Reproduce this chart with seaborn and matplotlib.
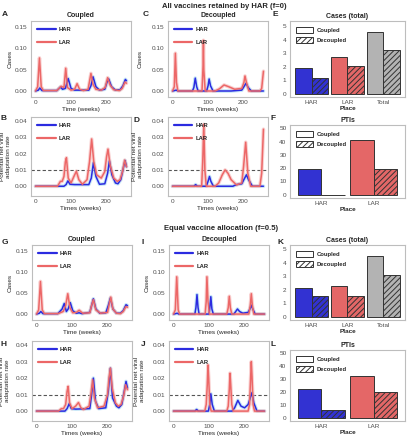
import pandas as pd
import matplotlib
matplotlib.use("Agg")
import matplotlib.pyplot as plt
import seaborn as sns
from matplotlib.patches import Patch
from matplotlib.lines import Line2D

# ---- time series (weeks, value) ----
# A: coupled, cases, f=0
a_har_t = [0, 8, 12, 18, 60, 70, 76, 84, 92, 100, 110, 150, 156, 162, 170, 180, 195, 201, 206, 214, 225, 238, 246, 253, 256]
a_har_y = [0, 0.002, 0.007, 0.001, 0.001, 0.009, 0.004, 0.006, 0.029, 0.006, 0.002, 0.002, 0.012, 0.033, 0.010, 0.002, 0.004, 0.020, 0.028, 0.010, 0.002, 0.003, 0.012, 0.027, 0.024]
a_lar_t = [0, 6, 11, 16, 22, 60, 72, 80, 85, 90, 100, 110, 117, 124, 135, 148, 156, 162, 170, 185, 196, 203, 210, 220, 236, 244, 252, 256]
a_lar_y = [0, 0.010, 0.077, 0.010, 0.001, 0.001, 0.011, 0.008, 0.053, 0.008, 0.002, 0.004, 0.017, 0.004, 0.001, 0.004, 0.041, 0.015, 0.004, 0.002, 0.008, 0.031, 0.014, 0.003, 0.001, 0.006, 0.021, 0.018]
# B: coupled, adaptation rate, f=0
b_har_t = [0, 80, 86, 91, 97, 110, 150, 157, 163, 170, 180, 195, 203, 208, 215, 225, 232, 240, 247, 252, 256]
b_har_y = [0, 0, 0.001, 0.0033, 0.0012, 0.001, 0.001, 0.005, 0.0145, 0.006, 0.0012, 0.0015, 0.008, 0.0155, 0.007, 0.002, 0.0015, 0.004, 0.011, 0.0158, 0.012]
b_lar_t = [0, 62, 70, 75, 80, 84, 87, 92, 100, 108, 115, 122, 132, 145, 152, 158, 164, 172, 185, 195, 200, 204, 210, 220, 230, 238, 245, 251, 256]
b_lar_y = [0, 0, 0.003, 0.003, 0.006, 0.015, 0.0175, 0.005, 0.002, 0.006, 0.0092, 0.004, 0.0012, 0.004, 0.015, 0.029, 0.015, 0.007, 0.005, 0.009, 0.018, 0.0228, 0.013, 0.005, 0.003, 0.004, 0.009, 0.016, 0.012]
# C: decoupled, cases, f=0
c_har_t = [0, 6, 10, 16, 56, 60, 64, 68, 72, 96, 100, 103, 107, 114, 165, 180, 195, 201, 207, 213, 222, 256]
c_har_y = [0, 0.001, 0.002, 0, 0, 0.008, 0.030, 0.010, 0, 0, 0.012, 0.028, 0.012, 0, 0, 0.001, 0.002, 0.010, 0.018, 0.008, 0, 0]
c_lar_t = [0, 5, 8, 11, 15, 83, 86, 87, 88, 92, 120, 132, 145, 158, 175, 195, 201, 204, 208, 215, 246, 251, 256]
c_lar_y = [0, 0.010, 0.088, 0.020, 0, 0, 0.060, 0.118, 0.050, 0, 0, 0.005, 0.014, 0.010, 0.004, 0.006, 0.020, 0.035, 0.020, 0, 0, 0.006, 0.046]
# D: decoupled, adaptation rate, f=0
d_har_t = [0, 60, 65, 70, 95, 100, 104, 108, 115, 170, 180, 195, 202, 208, 214, 225, 256]
d_har_y = [0, 0, 0.001, 0, 0, 0.003, 0.006, 0.003, 0, 0, 0.001, 0.0015, 0.0045, 0.007, 0.004, 0, 0]
d_lar_t = [0, 82, 85, 88, 91, 95, 120, 130, 140, 148, 156, 165, 180, 195, 200, 206, 212, 220, 246, 251, 256]
d_lar_y = [0, 0, 0.015, 0.038, 0.010, 0, 0, 0.002, 0.007, 0.010, 0.008, 0.004, 0.0008, 0.002, 0.012, 0.027, 0.008, 0, 0, 0.008, 0.035]
# G: coupled, cases, f=0.5
g_har_t = [0, 8, 12, 18, 60, 72, 78, 84, 89, 95, 102, 112, 120, 128, 150, 155, 160, 167, 178, 195, 202, 208, 215, 225, 236, 244, 252, 256]
g_har_y = [0, 0.002, 0.006, 0.001, 0.001, 0.012, 0.025, 0.006, 0.012, 0.027, 0.008, 0.002, 0.003, 0.001, 0.004, 0.020, 0.036, 0.012, 0.002, 0.003, 0.020, 0.038, 0.012, 0.002, 0.002, 0.008, 0.022, 0.020]
g_lar_t = [0, 6, 11, 16, 22, 60, 75, 82, 88, 94, 102, 112, 120, 130, 150, 155, 160, 167, 180, 200, 205, 209, 215, 225, 236, 244, 252, 256]
g_lar_y = [0, 0.010, 0.077, 0.010, 0.001, 0.001, 0.006, 0.020, 0.048, 0.015, 0.003, 0.004, 0.009, 0.002, 0.003, 0.020, 0.034, 0.010, 0.002, 0.004, 0.025, 0.040, 0.012, 0.002, 0.001, 0.006, 0.018, 0.016]
# H: coupled, adaptation rate, f=0.5
h_har_t = [0, 80, 86, 92, 98, 110, 150, 155, 160, 166, 175, 195, 202, 208, 214, 225, 232, 240, 247, 252, 256]
h_har_y = [0, 0, 0.0015, 0.0045, 0.0015, 0.0012, 0.0015, 0.010, 0.020, 0.006, 0.0015, 0.002, 0.012, 0.026, 0.008, 0.003, 0.002, 0.004, 0.012, 0.018, 0.014]
h_lar_t = [0, 62, 70, 76, 82, 86, 89, 93, 100, 110, 118, 125, 132, 148, 153, 158, 163, 172, 190, 200, 204, 208, 213, 222, 230, 238, 245, 251, 256]
h_lar_y = [0, 0, 0.0015, 0.0015, 0.004, 0.012, 0.015, 0.005, 0.0015, 0.003, 0.0052, 0.002, 0.001, 0.003, 0.010, 0.019, 0.008, 0.002, 0.003, 0.010, 0.020, 0.026, 0.014, 0.005, 0.003, 0.004, 0.009, 0.016, 0.013]
# I: decoupled, cases, f=0.5
i_har_t = [0, 6, 10, 15, 60, 63, 66, 69, 72, 100, 102, 105, 108, 112, 170, 175, 180, 186, 195, 210, 215, 219, 223, 230, 256]
i_har_y = [0, 0.001, 0.002, 0, 0, 0.015, 0.046, 0.015, 0, 0, 0.015, 0.041, 0.012, 0, 0, 0.006, 0.012, 0.006, 0.002, 0.004, 0.012, 0.021, 0.012, 0, 0]
i_lar_t = [0, 5, 9, 13, 17, 89, 92, 94, 97, 101, 150, 154, 157, 160, 164, 212, 216, 219, 222, 226, 256]
i_lar_y = [0, 0.010, 0.088, 0.010, 0, 0, 0.030, 0.088, 0.030, 0, 0, 0.015, 0.042, 0.015, 0, 0, 0.020, 0.048, 0.020, 0, 0]
# J: decoupled, adaptation rate, f=0.5
j_har_t = [0, 60, 65, 70, 98, 102, 105, 109, 115, 165, 172, 181, 190, 200, 210, 216, 221, 226, 235, 256]
j_har_y = [0, 0, 0.001, 0, 0, 0.004, 0.0105, 0.004, 0, 0, 0.002, 0.0065, 0.003, 0.002, 0.004, 0.008, 0.0112, 0.005, 0, 0]
j_lar_t = [0, 88, 92, 95, 97, 99, 102, 106, 150, 154, 157, 159, 161, 164, 168, 210, 214, 217, 219, 221, 224, 228, 256]
j_lar_y = [0, 0, 0.004, 0.016, 0.028, 0.020, 0.004, 0, 0, 0.003, 0.013, 0.023, 0.016, 0.004, 0, 0, 0.004, 0.020, 0.030, 0.021, 0.004, 0, 0]

# ---- bar panels ----
places3 = ["HAR", "LAR", "Total"]
places2 = ["HAR", "LAR"]
e_coupled = [1.95, 2.7, 4.6]
e_decoupled = [1.2, 2.05, 3.25]
f_coupled = [19, 41]
f_decoupled = [0, 19]
k_coupled = [2.15, 2.3, 4.45]
k_decoupled = [1.5, 1.55, 3.05]
l_coupled = [22, 32]
l_decoupled = [6, 20]

sns.set_style("white")
plt.rcParams['font.family'] = ['Liberation Sans', 'DejaVu Sans']
plt.rcParams['hatch.linewidth'] = 0.7

HAR_LINE = "#2b2be0"
LAR_LINE = "#ec6767"
HAR_BAND = "#9fd6f2"
LAR_BAND = "#f5b3b3"
BAR_COL = {"HAR": "#3232d2", "LAR": "#e46767", "Total": "#b3b3b3"}
TICK_COL = "#4d4d4d"

W, H = 410, 440
fig = plt.figure(figsize=(W / 100, H / 100), dpi=100)


def rect(left, top, right, bottom):
    return [left / W, 1 - bottom / H, (right - left) / W, (bottom - top) / H]


def style_axes(ax):
    for s in ax.spines.values():
        s.set_color("#bdbdbd")
        s.set_linewidth(0.8)
    ax.tick_params(length=1.5, width=0.6, color="#7f7f7f", labelsize=4.6,
                   labelcolor=TICK_COL, pad=1)


def line_panel(box, har_t, har_y, lar_t, lar_y, kind, title, xlabel, ylab_x):
    ax = fig.add_axes(rect(*box))
    df = pd.concat([pd.DataFrame({"t": har_t, "v": har_y, "place": "HAR"}),
                    pd.DataFrame({"t": lar_t, "v": lar_y, "place": "LAR"})])
    sns.lineplot(data=df, x="t", y="v", hue="place", estimator=None,
                 palette={"HAR": HAR_BAND, "LAR": LAR_BAND}, lw=2.6,
                 alpha=0.6, legend=False, ax=ax)
    sns.lineplot(data=df, x="t", y="v", hue="place", estimator=None,
                 palette={"HAR": HAR_LINE, "LAR": LAR_LINE}, lw=1.1,
                 legend=False, ax=ax)
    ax.set_xlim(-12.8, 268.8)
    ax.set_xticks([0, 100, 200])
    if kind == "cases":
        ax.set_ylim(-0.014, 0.163)
        ax.set_yticks([0, 0.05, 0.10, 0.15])
        ax.set_ylabel("Cases", fontsize=4.6)
    else:
        ax.axhline(0.01, color="#555555", lw=0.8, ls=(0, (3, 2)), zorder=0)
        ax.set_ylim(-0.006, 0.0425)
        ax.set_yticks([0, 0.01, 0.02, 0.03, 0.04])
        ax.set_ylabel("Potential net viral\nadaptation rate", fontsize=4.6,
                      linespacing=1.3)
    ax.yaxis.set_label_coords((ylab_x - box[0]) / (box[2] - box[0]), 0.5)
    ax.yaxis.set_major_formatter(lambda v, p: f"{v:.2f}")
    ax.set_xlabel(xlabel, fontsize=4.6, labelpad=1)
    if title:
        ax.set_title(title, fontsize=5, fontweight="bold", pad=3)
    handles = [Line2D([], [], color=HAR_LINE, lw=1.6),
               Line2D([], [], color=LAR_LINE, lw=1.6)]
    ax.legend(handles, ["HAR", "LAR"], loc="upper left", frameon=False,
              prop={"size": 4.2, "weight": "bold"}, handlelength=3.2,
              labelspacing=1.3, borderaxespad=0.6, handletextpad=0.6)
    style_axes(ax)
    return ax


def bar_panel(box, places, coupled, decoupled, ylim, yticks, title):
    ax = fig.add_axes(rect(*box))
    n = len(places)
    df = pd.DataFrame({"place": places * 2, "value": coupled + decoupled,
                       "mode": ["Coupled"] * n + ["Decoupled"] * n})
    sns.barplot(data=df, x="place", y="value", hue="mode", width=0.9,
                legend=False, edgecolor="#333333", linewidth=0.7,
                saturation=1, ax=ax)
    for i, cont in enumerate(ax.containers):
        for j, bar in enumerate(cont):
            bar.set_facecolor(BAR_COL[places[j]])
            if i == 1:
                bar.set_hatch("//////")
    ax.set_xlim(-0.6, n - 0.4)
    ax.set_ylim(*ylim)
    ax.set_yticks(yticks)
    ax.set_ylabel("")
    ax.set_xlabel("Place", fontsize=4.6, fontweight="bold", labelpad=0.5)
    ax.set_title(title, fontsize=5, fontweight="bold", pad=2.5)
    handles = [Patch(facecolor="white", edgecolor="#333333", lw=0.7),
               Patch(facecolor="white", edgecolor="#333333", lw=0.7, hatch="//////")]
    ax.legend(handles, ["Coupled", "Decoupled"], loc="upper left",
              frameon=False, prop={"size": 4.2, "weight": "bold"},
              handlelength=3.0, handleheight=1.2, labelspacing=0.7,
              borderaxespad=0.6, handletextpad=0.6)
    style_axes(ax)
    return ax


# top block: f = 0
line_panel((31, 21, 131, 97), a_har_t, a_har_y, a_lar_t, a_lar_y, "cases", "Coupled", "Time (weeks)", 13)
line_panel((31, 117, 131, 196), b_har_t, b_har_y, b_lar_t, b_lar_y, "rate", None, "Times (weeks)", 11)
line_panel((168, 21, 268, 97), c_har_t, c_har_y, c_lar_t, c_lar_y, "cases", "Decoupled", "Times (weeks)", 143)
line_panel((168, 117, 268, 196), d_har_t, d_har_y, d_lar_t, d_lar_y, "rate", None, "Times (weeks)", 143)
bar_panel((290, 21, 405, 97), places3, e_coupled, e_decoupled, (-0.23, 5.4), [0, 1, 2, 3, 4, 5], "Cases (total)")
bar_panel((290, 125, 405, 198), places2, f_coupled, f_decoupled, (-2.5, 52.5), [0, 10, 20, 30, 40, 50], "PTIs")

# bottom block: f = 0.5
line_panel((32, 245, 132, 320), g_har_t, g_har_y, g_lar_t, g_lar_y, "cases", "Coupled", "Time (weeks)", 13)
line_panel((32, 341, 132, 421), h_har_t, h_har_y, h_lar_t, h_lar_y, "rate", None, "Times (weeks)", 10)
line_panel((169, 245, 269, 320), i_har_t, i_har_y, i_lar_t, i_lar_y, "cases", "Decoupled", "Times (weeks)", 150)
line_panel((169, 341, 269, 421), j_har_t, j_har_y, j_lar_t, j_lar_y, "rate", None, "Times (weeks)", 145)
bar_panel((290, 245, 405, 320), places3, k_coupled, k_decoupled, (-0.25, 5.3), [0, 1, 2, 3, 4, 5], "Cases (total)")
bar_panel((290, 350, 405, 421), places2, l_coupled, l_decoupled, (-2.5, 52.5), [0, 10, 20, 30, 40, 50], "PTIs")

# block titles and panel letters
fig.text(224 / W, 1 - 6 / H, "All vaccines retained by HAR (f=0)", ha="center", va="center",
         fontsize=5.5, fontweight="bold")
fig.text(221 / W, 1 - 228 / H, "Equal vaccine allocation (f=0.5)", ha="center", va="center",
         fontsize=5.5, fontweight="bold")
letters = [("A", 5, 15), ("C", 146, 15), ("E", 275, 14), ("B", 4, 118), ("D", 137, 120),
           ("F", 273, 118), ("G", 5, 242), ("I", 143, 242), ("K", 280, 242),
           ("H", 4, 344), ("J", 143, 344), ("L", 273, 344)]
for lab, x, y in letters:
    fig.text(x / W, 1 - y / H, lab, ha="center", va="center", fontsize=6, fontweight="bold")

fig.savefig("out.png", dpi=100)
